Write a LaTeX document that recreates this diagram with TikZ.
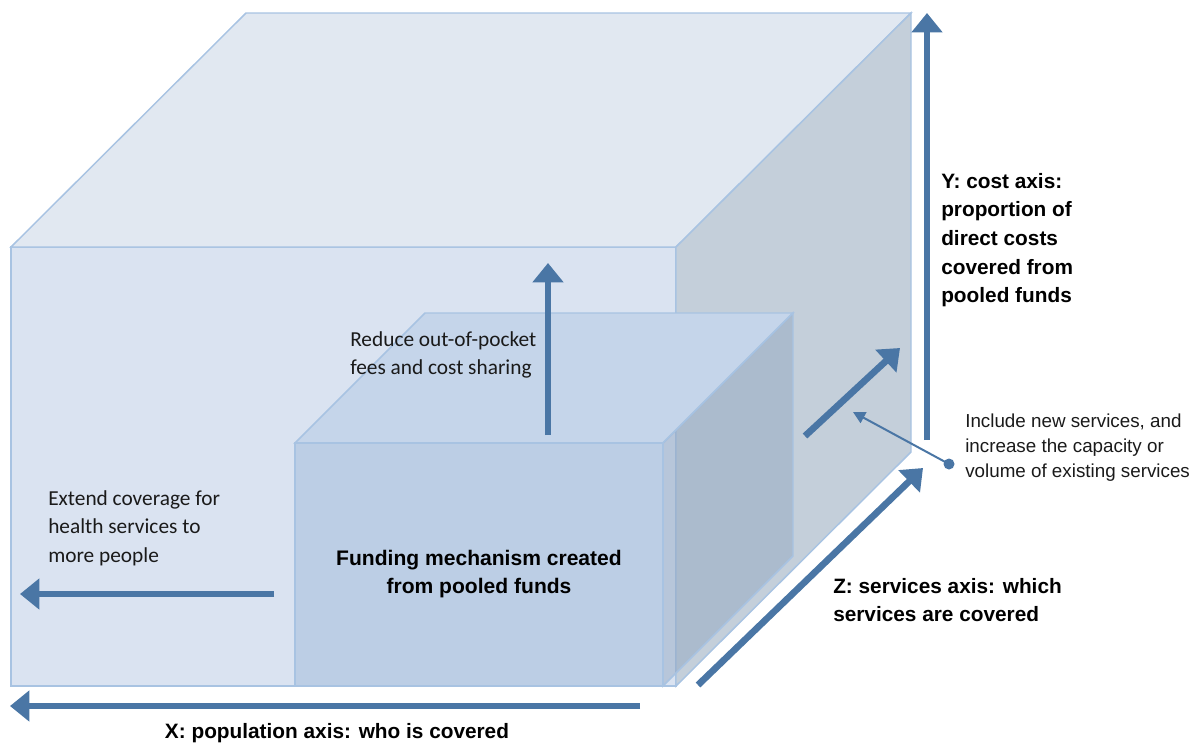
\documentclass[tikz,border=0pt]{standalone}
\usepackage{fontspec}
\setmainfont{Liberation Sans}
\newfontfamily\calib{Carlito}
\usetikzlibrary{arrows.meta}
\definecolor{arr}{HTML}{4A76A5}
\definecolor{edge}{HTML}{A8C3E2}
\definecolor{bigtop}{HTML}{E1E8F1}
\definecolor{bigfront}{HTML}{DAE3F1}
\definecolor{bigright}{HTML}{C4CFDA}
\definecolor{smfront}{HTML}{BCCEE5}
\definecolor{smtop}{HTML}{C5D5EA}
\definecolor{smright}{HTML}{8EA3BE}
\definecolor{txt}{HTML}{1A1A1A}
\tikzset{
  face/.style={draw=edge, line width=1.1pt, line join=miter},
  bigarrow/.style={draw=arr, line width=5pt, -{Triangle[length=14.5pt,width=22.5pt]}},
  pointer/.style={draw=arr, line width=1.5pt, -{Triangle[length=9pt,width=9pt]}},
  note/.style={align=left, anchor=west, inner sep=0pt, text=txt, font=\calib\fontsize{16}{21.4}\selectfont},
  notesans/.style={align=left, anchor=west, inner sep=0pt, text=txt, font=\fontsize{14.1}{18.8}\selectfont},
  axislabel/.style={align=left, anchor=west, inner sep=0pt, text=black, font=\bfseries\fontsize{15.6}{20.4}\selectfont}
}
\begin{document}
\begin{tikzpicture}[x=0.75pt,y=-0.75pt]
\useasboundingbox (0,0) rectangle (1202,743);
% big cube
\filldraw[face, fill=bigfront] (11,247) rectangle (676,686);
\filldraw[face, fill=bigtop] (11,247) -- (246,13) -- (911,13) -- (676,247) -- cycle;
\filldraw[face, fill=bigright] (676,247) -- (911,13) -- (911,452) -- (676,686) -- cycle;
% small cube
\filldraw[face, fill=smtop] (295,443) -- (425,313) -- (793,313) -- (663,443) -- cycle;
\filldraw[face, fill=smright, fill opacity=0.45, draw opacity=1] (663,443) -- (793,313) -- (793,556) -- (663,686) -- cycle;
\filldraw[face, fill=smfront] (295,443) rectangle (663,686);

% coordinates for arrows
\coordinate (xs) at (640,706);
\coordinate (xe) at (10,706);
\coordinate (ls) at (274,594);
\coordinate (le) at (20,594);
\coordinate (us) at (548,435);
\coordinate (ue) at (548,263);
\coordinate (ys) at (927,440);
\coordinate (ye) at (927,13);
\coordinate (zs) at (698,685);
\coordinate (ze) at (923,468);
\coordinate (is) at (805,436);
\coordinate (ie) at (900,348);
\coordinate (dot) at (949,464);
\coordinate (pt) at (853,412);

\draw[bigarrow] (xs) -- (xe);
\draw[bigarrow] (ls) -- (le);
\draw[bigarrow] (us) -- (ue);
\draw[bigarrow] (ys) -- (ye);
\draw[bigarrow] (zs) -- (ze);
\draw[bigarrow] (is) -- (ie);
\draw[pointer] (dot) -- (pt);
\fill[arr] (dot) circle (5.5);

% texts
\node[axislabel, anchor=center, align=center] (xlab) at (337,733) {X: population axis: who is covered};
\node[note] (ext) at (48,528) {Extend coverage for\\health services to\\more people};
\node[note] (red) at (350,355) {Reduce out-of-pocket\\fees and cost sharing};
\node[align=center, inner sep=0pt, text=black, font=\bfseries\fontsize{15.8}{21}\selectfont] (fund) at (479,574) {Funding mechanism created\\from pooled funds};
\node[axislabel, font=\bfseries\fontsize{15.6}{21.5}\selectfont] (ylab) at (941,240) {Y: cost axis:\\proportion of\\direct costs\\covered from\\pooled funds};
\node[notesans] (incl) at (965,448) {Include new services, and\\increase the capacity or\\volume of existing services};
\node[axislabel] (zlab) at (833,600) {Z: services axis: which\\services are covered};
\end{tikzpicture}
\end{document}
